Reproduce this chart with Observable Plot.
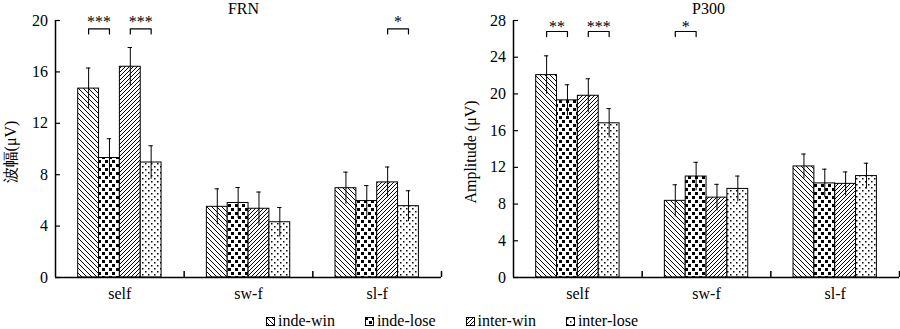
<!DOCTYPE html>
<html>
<head>
<meta charset="utf-8">
<script src="https://cdn.jsdelivr.net/npm/d3@7"></script>
<script src="https://cdn.jsdelivr.net/npm/@observablehq/plot@0.6"></script>
<style>
  html, body { margin: 0; padding: 0; background: #fff; }
  #wrap { position: relative; width: 900px; height: 329px; overflow: hidden; }
  #charts { display: flex; }
  #charts svg { display: block; }
  #charts svg text { font-family: "Liberation Serif", "DejaVu Serif", serif; }
  #charts svg text.cjk { font-family: "Liberation Serif", "Noto Sans CJK SC", serif; }
  #legend { position: absolute; top: 312px; left: 2px; width: 900px; display: flex; justify-content: center; gap: 30px; font-family: "Liberation Serif", "DejaVu Serif", serif; font-size: 16px; line-height: 18px; color: #000; }
  .item { display: flex; align-items: center; }
  .item svg { margin-right: 3px; }
</style>
</head>
<body>
<svg width="0" height="0" style="position:absolute">
  <defs>
    <pattern id="pat0" patternUnits="userSpaceOnUse" width="5" height="5">
      <rect width="5" height="5" fill="#fff"/>
      <path d="M-1,-1 L6,6 M-1,4 L1,6 M4,-1 L6,1" stroke="#000" stroke-width="1" shape-rendering="crispEdges"/>
    </pattern>
    <pattern id="pat1" patternUnits="userSpaceOnUse" width="7" height="8">
      <rect width="7" height="8" fill="#fff"/>
      <rect x="0" y="0" width="3" height="3" fill="#000"/>
      <rect x="4" y="4" width="3" height="3" fill="#000"/>
    </pattern>
    <pattern id="pat2" patternUnits="userSpaceOnUse" width="4" height="4">
      <rect width="4" height="4" fill="#fff"/>
      <path d="M0,4 L4,0 M-1,1 L1,-1 M3,5 L5,3" stroke="#000" stroke-width="1" shape-rendering="crispEdges"/>
    </pattern>
    <pattern id="pat3" patternUnits="userSpaceOnUse" width="6" height="6">
      <rect width="6" height="6" fill="#fff"/>
      <rect x="1" y="1" width="1.5" height="1.5" fill="#000"/>
      <rect x="4" y="4" width="1.5" height="1.5" fill="#000"/>
    </pattern>
  </defs>
</svg>
<div id="wrap">
  <div id="charts"></div>
  <div id="legend"></div>
</div>
<script>
// ---- data ----
const categories = ["self", "sw-f", "sl-f"];
const series = ["inde-win", "inde-lose", "inter-win", "inter-lose"];
const patterns = ["url(#pat0)", "url(#pat1)", "url(#pat2)", "url(#pat3)"];

const frnMean = [[14.7, 9.3, 16.4, 8.95], [5.5, 5.8, 5.35, 4.3], [6.95, 5.95, 7.4, 5.55]];
const frnErr  = [[1.6, 1.5, 1.5, 1.3], [1.4, 1.2, 1.3, 1.15], [1.25, 1.2, 1.2, 1.2]];
const p300Mean = [[22.05, 19.3, 19.8, 16.8], [8.35, 11.0, 8.7, 9.65], [12.1, 10.25, 10.2, 11.05]];
const p300Err  = [[2.1, 1.7, 1.85, 1.6], [1.75, 1.55, 1.45, 1.4], [1.35, 1.55, 1.3, 1.4]];

const frnTicks = [0, 4, 8, 12, 16, 20];
const p300Ticks = [0, 4, 8, 12, 16, 20, 24, 28];

const frnSig = [
  {cat: 0, a: 0, b: 1, label: "***"},
  {cat: 0, a: 2, b: 3, label: "***"},
  {cat: 2, a: 2, b: 3, label: "*"}
];
const p300Sig = [
  {cat: 0, a: 0, b: 1, label: "**"},
  {cat: 0, a: 2, b: 3, label: "***"},
  {cat: 1, a: 0, b: 1, label: "*"}
];

// ---- layout (fractions of a category band) ----
const OFF = 0.1764, BW = 0.162, CAP = 0.017;
const barX1 = (ci, j) => ci + OFF + j * BW;
const barXc = (ci, j) => barX1(ci, j) + BW / 2;

function panel(o) {
  const rows = [];
  categories.forEach((c, i) => series.forEach((s, j) =>
    rows.push({ci: i, j, v: o.means[i][j], e: o.errs[i][j]})));
  const bracket = [];
  o.sig.forEach((s, k) => {
    const xa = barXc(s.cat, s.a), xb = barXc(s.cat, s.b);
    bracket.push({k, x: xa, y: o.sigY - o.sigTick}, {k, x: xa, y: o.sigY},
                 {k, x: xb, y: o.sigY}, {k, x: xb, y: o.sigY - o.sigTick});
  });
  const tickLen = 5 / ((450 - o.marginLeft - o.marginRight) / 3);
  return Plot.plot({
    width: 450, height: 304,
    marginLeft: o.marginLeft, marginRight: o.marginRight, marginTop: 20, marginBottom: 27,
    style: {fontSize: "16px", color: "#000", background: "transparent", overflow: "visible"},
    color: {type: "identity"},
    x: {type: "linear", domain: [0, 3], ticks: [0.5, 1.5, 2.5], tickFormat: t => categories[Math.floor(t)], tickSize: 0, tickPadding: 10, label: null},
    y: {domain: [0, o.yMax], ticks: o.yTicks, tickSize: 0, tickPadding: 7.5, label: null},
    marks: [
      Plot.rect(rows, {x1: d => barX1(d.ci, d.j), x2: d => barX1(d.ci, d.j) + BW, y1: 0, y2: "v", fill: d => patterns[d.j], stroke: "#000", strokeWidth: 1}),
      Plot.ruleX(rows, {x: d => barXc(d.ci, d.j), y1: d => d.v - d.e, y2: d => d.v + d.e, stroke: "#000", strokeWidth: 1}),
      Plot.ruleY(rows, {y: d => d.v + d.e, x1: d => barXc(d.ci, d.j) - CAP, x2: d => barXc(d.ci, d.j) + CAP, stroke: "#000", strokeWidth: 1}),
      Plot.ruleY([0], {stroke: "#000", strokeWidth: 1.5}),
      Plot.ruleX([0], {stroke: "#000", strokeWidth: 1.5}),
      Plot.ruleY(o.yTicks, {x1: 0, x2: tickLen, stroke: "#000", strokeWidth: 1.2}),
      Plot.ruleX([1, 2, 3], {y1: 0, y2: o.sepTick, stroke: "#000", strokeWidth: 1.5}),
      Plot.line(bracket, {x: "x", y: "y", z: "k", stroke: "#000", strokeWidth: 1.2}),
      Plot.text(o.sig, {x: s => (barXc(s.cat, s.a) + barXc(s.cat, s.b)) / 2, y: o.sigY, text: "label", lineAnchor: "bottom", dy: o.starDy, fontSize: 16}),
      Plot.text([o.title], {frameAnchor: "top", lineAnchor: "bottom", dy: -7, dx: o.titleDx, fontSize: 16}),
      Plot.text([o.yLabel], {frameAnchor: "left", rotate: -90, textAnchor: "middle", lineAnchor: "middle", dx: o.yLabelDx, dy: 3, fontSize: 16, className: "cjk"})
    ]
  });
}

const left = panel({
  means: frnMean, errs: frnErr, sig: frnSig, yMax: 20, yTicks: frnTicks,
  marginLeft: 55, marginRight: 9, sigY: 19.35, sigTick: 0.4, starDy: -2,
  sepTick: 0.47, title: "FRN", titleDx: -5, yLabel: "波幅(μV)", yLabelDx: -45
});
const right = panel({
  means: p300Mean, errs: p300Err, sig: p300Sig, yMax: 28, yTicks: p300Ticks,
  marginLeft: 63, marginRight: 1, sigY: 26.8, sigTick: 0.55, starDy: 0,
  sepTick: 0.65, title: "P300", titleDx: 2, yLabel: "Amplitude (μV)", yLabelDx: -43
});
document.getElementById("charts").append(left, right);

// ---- legend ----
const legend = document.getElementById("legend");
series.forEach((s, j) => {
  const item = document.createElement("div");
  item.className = "item";
  item.innerHTML = `<svg width="9" height="9"><rect x="0.5" y="0.5" width="8" height="8" fill="${patterns[j]}" stroke="#000" stroke-width="1"/></svg><span>${s}</span>`;
  legend.append(item);
});
</script>
</body>
</html>
